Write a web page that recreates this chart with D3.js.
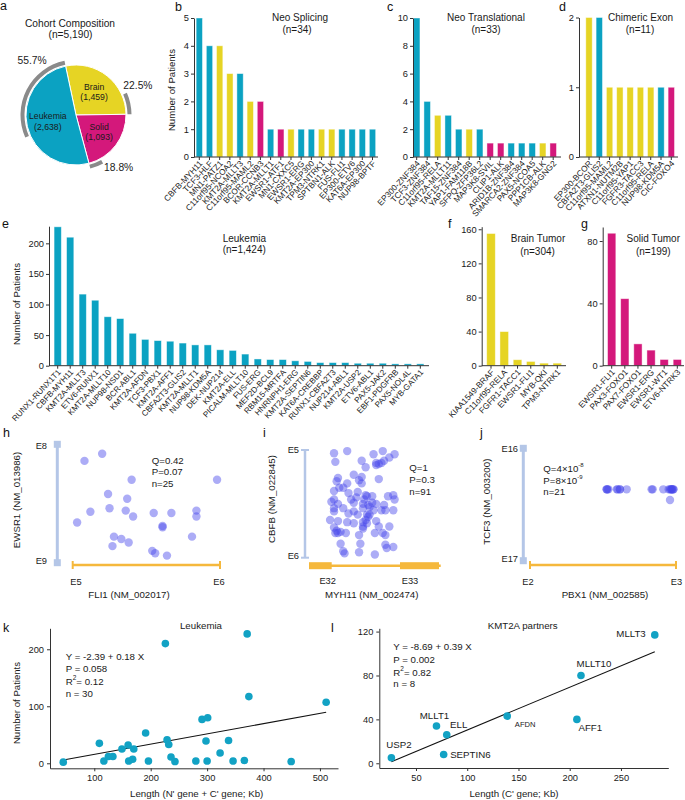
<!DOCTYPE html>
<html><head><meta charset="utf-8">
<script src="https://cdn.jsdelivr.net/npm/d3@7/dist/d3.min.js"></script>
<style>
body{margin:0;background:#fff}
svg text{font-family:"Liberation Sans",Arial,Helvetica,sans-serif;}
</style></head><body>
<svg id="chart" width="685" height="800"></svg>
<script>
// ================= DATA =================
const pieNames = ["Brain","Solid","Leukemia"];
const pieCounts = [1459,1093,2638];
const pieCountLabels = ["(1,459)","(1,093)","(2,638)"];
const piePct = [22.5,18.8,55.7];
const pieTypes = ["B","S","L"];

const spliceNames = ["CBFB-MYH11","TCF3-HLF","MN1-PATZ1","C11orf95-NCOA2","KMT2A-MLLT3","C11orf95-MAML2","BCOR-CCNB3","KMT2A-MLLT1","EWSR1-ATF1","MN1-CXXC5","EWSR1-ERG","KMT2A-EP300","TPM3-NTRK1","SPTBN1-ALK","FUS-FLI1","EP300-ETV6","KAT6A-EP300","NUP98-BPTF"];
const spliceValues = [5,4,4,3,3,2,2,1,1,1,1,1,1,1,1,1,1,1];
const spliceTypes = ["L","L","B","B","L","B","S","L","S","B","L","L","B","B","L","L","L","L"];

const transNames = ["EP300-ZNF384","TCF3-ZNF384","C11orf95-RELA","KMT2A-MLLT11","TAF15-ZNF384","YAP1-FAM118B","SFPQ-ZFP36L2","MAP3K8-SVIL","CLIP1-ALK","ARID1B-ZNF384","SMARCA2-ZNF384","PAX5-NCOA5","PPP1CB-ALK","MAP3K8-GNG2"];
const transValues = [10,4,3,3,2,2,2,1,1,1,1,1,1,1];
const transTypes = ["L","L","B","L","L","B","L","S","S","L","L","L","B","S"];

const chimNames = ["EP300-BCOR","CBFA2T3-GLIS2","C11orf95-MAML2","ATXN1-NUTM2B","C11orf95-YAP1","FGFR3-TACC3","C11orf95-RELA","NUP98-KDM5A","CIC-FOXO4"];
const chimValues = [2,2,1,1,1,1,1,1,1];
const chimTypes = ["B","L","B","B","B","B","B","L","S"];

const leukNames = ["RUNX1-RUNX1T1","CBFB-MYH11","KMT2A-MLLT3","ETV6-RUNX1","KMT2A-MLLT10","NUP98-NSD1","BCR-ABL1","KMT2A-AFDN","TCF3-PBX1","KMT2A-AFF1","CBFA2T3-GLIS2","KMT2A-MLLT1","NUP98-KDM5A","DEK-NUP214","KMT2A-ELL","PICALM-MLLT10","FUS-ERG","MEF2D-BCL9","RBM15-MRTFA","HNRNPH1-ERG","KMT2A-SEPTIN6","KAT6A-CREBBP","RUNX1-CBFA2T3","NUP214-ABL1","KMT2A-USP2","ETV6-ABL1","PAX5-JAK2","EBF1-PDGFRB","PAX5-NOL4L","MYB-GATA1"];
const leukValues = [227,210,117,107,80,77,53,43,41,40,37,34,34,26,25,19,11,10,10,8,7,5,5,5,4,4,4,3,3,3];

const brainNames = ["KIAA1549-BRAF","C11orf95-RELA","FGFR1-TACC1","EWSR1-FLI1","MYB-QKI","TPM3-NTRK1"];
const brainValues = [155,40,7,5,3,3];

const solidNames = ["EWSR1-FLI1","PAX3-FOXO1","PAX7-FOXO1","EWSR1-ERG","EWSR1-WT1","ETV6-NTRK3"];
const solidValues = [85,43,14,10,4,4];

// breakpoint positions, % along the exon interval
const hX = [8,20,40,98,24,37,12,25,36,41,3,55,67,84,84,61,61,28,33,38,27,81,54,56,64];
const hY = [14,8,30,30,42,46,57,54,56,61,66,58,58,56,61,69,70,78,80,83,86,78,90,92,94];
const iX = [19,29,20,49,56,65,61,51,55,57,40,43,53,51,34,40,38,22,21,53,26,23,19,37,44,42,48,60,64,65,19,19,22,26,34,41,45,48,51,49,41,44,45,43,57,64,30,34,37,16,22,29,34,41,41,41,44,51,53,61,19,21,20,24,28,22,50,38,56,58,24,39,58,64,26,27,38,50,59,30,40,55,19,36,32,46,29,46,17,58,43];
const iY = [3,1,11,4,1,4,7,12,12,10,10,16,13,14,23,25,28,26,29,27,35,35,38,39,43,46,43,43,42,46,46,54,50,54,49,50,51,49,50,56,54,60,62,65,51,56,59,57,60,65,66,67,68,67,73,71,68,66,71,71,72,75,77,76,77,77,77,79,77,79,87,87,88,90,94,96,95,97,91,40,31,56,57,44,46,53,31,60,48,56,42];
const jX = [52.5,52.5,53,53.7,59.5,60,61.6,61.6,66.2,83.3,84,91.3,95,95.9,96.5,97,97,97.5,98.2,98.2,95.9];
const jY = [36.5,36.5,36.5,36.5,36.5,36.5,36.5,36.5,36.5,36.5,36.5,36.5,36.5,36.5,36.5,36.5,36.5,36.5,36.5,36.5,46];

const kLen = [45,109,117,125,133,149,160,161,168,170,191,196,226,229,232,236,243,280,291,298,301,300,323,338,346,366,371,374,449,511];
const kCount = [2,35,4,12,12,25,32,4,7,25,53,4,210,41,33,11,3,4,77,39,80,4,18,40,4,5,227,117,3,107];

const lNames = ["MLLT3","MLLT10","AFDN","AFF1","MLLT1","ELL","SEPTIN6","USP2"];
const lLen = [283,211,139,207,70,80,77,26];
const lCount = [117,80,43,40,34,26,8,5];

// ================= STYLE =================
const COL = {L:"#0ba2c2", B:"#e6d424", S:"#d4187b"};
const AX = "#333", TXT = "#1a1a1a", PT = "#12a2c4";
const svg = d3.select("#chart");

function txt(g, x, y, s, size, anchor){
  return g.append("text").attr("x",x).attr("y",y).attr("font-size",size)
    .attr("fill",TXT).attr("text-anchor",anchor||"middle").attr("dominant-baseline","middle").text(s);
}
function styleAxis(a, fs){
  a.attr("font-family",null);
  a.selectAll(".domain").attr("stroke",AX).attr("stroke-width",1);
  a.selectAll(".tick line").attr("stroke",AX);
  a.selectAll("text").attr("fill",TXT).attr("font-size",fs||9);
}
function letter(s,x,y){ svg.append("text").attr("x",x).attr("y",y).attr("font-size",12.5).attr("fill","#111").text(s); }

// ================= PANEL a =================
(function(){
  const g = svg.append("g").attr("transform","translate(76,115)");
  const a0 = -12*Math.PI/180;
  const arcs = d3.pie().sort(null).startAngle(a0).endAngle(a0+2*Math.PI)(pieCounts);
  g.selectAll("path.sl").data(arcs).join("path").attr("class","sl")
    .attr("d", d3.arc().innerRadius(0).outerRadius(50))
    .attr("fill",(d,i)=>COL[pieTypes[i]]).attr("stroke","#fff").attr("stroke-width",1);
  const gr = d3.arc().innerRadius(51.5).outerRadius(55.5);
  g.selectAll("path.gr").data(arcs).join("path").attr("class","gr")
    .attr("d",(d,i)=>gr({startAngle:d.endAngle-(d.endAngle-d.startAngle)*piePct[i]/100, endAngle:d.endAngle}))
    .attr("fill","#8a8a8a");
  const lab = d3.arc().innerRadius(29).outerRadius(29);
  arcs.forEach((d,i)=>{
    const [cx,cy] = lab.centroid(d);
    txt(g,cx,cy-5,pieNames[i],8.7);
    txt(g,cx,cy+5.5,pieCountLabels[i],8.7);
  });
  const pctAng = [64.9,141.4,-39.4], pctR=[68.4,68.4,69.3];
  piePct.forEach((p,i)=>{
    const a = pctAng[i]*Math.PI/180;
    txt(g, pctR[i]*Math.sin(a), -pctR[i]*Math.cos(a), p.toFixed(1)+"%", 10.3);
  });
  txt(svg,70,24,"Cohort Composition",10.2);
  txt(svg,70.5,35.5,"(n=5,190)",10.2);
  letter("a",0,10);
})();

// ================= BAR CHARTS =================
function barChart(c){
  const n = c.names.length, step = (c.last-c.first)/(n-1);
  const x = d3.scaleBand().domain(d3.range(n)).range([c.first-step/2, c.last+step/2])
    .paddingInner(c.pad).paddingOuter(c.pad/2);
  const y = d3.scaleLinear().domain([0,c.yMax]).range([c.y0, c.yTop]);
  const g = svg.append("g");
  g.selectAll("rect").data(c.values).join("rect")
    .attr("x",(d,i)=>x(i)).attr("width",x.bandwidth())
    .attr("y",d=>y(d)).attr("height",d=>y(0)-y(d))
    .attr("fill",(d,i)=>COL[c.types ? c.types[i] : c.type])
    .attr("stroke","#ffffff").attr("stroke-opacity",0.55).attr("stroke-width",0.8);
  const ya = g.append("g").attr("transform",`translate(${c.x0},0)`)
    .call(d3.axisLeft(y).tickValues(c.ticks).tickSize(3).tickSizeOuter(0).tickPadding(2).tickFormat(d3.format("d")));
  styleAxis(ya, 9.3);
  const xa = g.append("g").attr("transform",`translate(0,${c.y0})`)
    .call(d3.axisBottom(x).tickSize(3).tickSizeOuter(0).tickFormat(i=>c.names[i]));
  xa.select(".domain").remove();
  styleAxis(xa, c.lfs||8.3);
  xa.selectAll("text").attr("x",0).attr("y",0).attr("dy","0.35em")
    .attr("transform","translate(1.5,5) rotate(-47)").attr("text-anchor","end");
  g.append("line").attr("x1",c.x0).attr("x2",c.x1).attr("y1",c.y0).attr("y2",c.y0)
    .attr("stroke",AX).attr("stroke-width",1);
  c.title.forEach(t=>txt(g,t[1],t[2],t[0],10,c.titleAnchor||"middle"));
  if(c.ylab) txt(g,0,0,"Number of Patients",9.6).attr("transform",`translate(${c.ylab[0]},${c.ylab[1]}) rotate(-90)`);
}

barChart({names:spliceNames, values:spliceValues, types:spliceTypes, x0:194, x1:378, first:199.3, last:372.5,
  y0:157, yTop:18, yMax:5, ticks:[0,1,2,3,4,5], pad:0.38,
  title:[["Neo Splicing",300,18.3],["(n=34)",297,30.5]], ylab:[172,90]});
letter("b",175,11);
barChart({names:transNames, values:transValues, types:transTypes, x0:413, x1:561, first:416.7, last:553.2,
  y0:157, yTop:18, yMax:10, ticks:[0,2,4,6,8,10], pad:0.38,
  title:[["Neo Translational",486,18.3],["(n=33)",486,30.5]]});
letter("c",387,11);
barChart({names:chimNames, values:chimValues, types:chimTypes, x0:579, x1:678, first:589, last:671.3,
  y0:157, yTop:17.5, yMax:2, ticks:[0,1,2], pad:0.38,
  title:[["Chimeric Exon",640.5,18.3],["(n=11)",640,30.5]]});
letter("d",559,11);
barChart({names:leukNames, values:leukValues, type:"L", x0:49, x1:429, first:57.7, last:420.3,
  y0:365.7, yTop:226.2, yMax:228, ticks:[0,50,100,150,200], pad:0.42, lfs:8.1,
  title:[["Leukemia",222.7,239.3],["(n=1,424)",222.7,250.5]], titleAnchor:"start", ylab:[17,304]});
letter("e",2,228);
barChart({names:brainNames, values:brainValues, type:"B", x0:481.7, x1:566, first:491, last:557.3,
  y0:365.7, yTop:226.7, yMax:163, ticks:[0,40,80,120,160], pad:0.35,
  title:[["Brain Tumor",538,239],["(n=304)",537.5,252]]});
letter("f",448,228);
barChart({names:solidNames, values:solidValues, type:"S", x0:602.7, x1:684, first:611.7, last:677.3,
  y0:365.7, yTop:227, yMax:89, ticks:[0,40,80], pad:0.37,
  title:[["Solid Tumor",653.3,239],["(n=199)",653.3,252]]});
letter("g",581,228);

// ================= GENE BREAKPOINT PANELS =================
const VCOL = "#b4c6e7", HCOL = "#f5b83c";
function genePanel(c, xs, ys){
  const g = svg.append("g");
  const x = d3.scaleLinear().domain([0,100]).range([c.xa,c.xb]);
  const y = d3.scaleLinear().domain([0,100]).range([c.ya,c.yb]);
  g.append("line").attr("x1",c.vx).attr("x2",c.vx).attr("y1",y(0)).attr("y2",y(100)).attr("stroke",VCOL).attr("stroke-width",c.vw||3);
  [0,100].forEach(v=>{
    if(c.square) g.append("rect").attr("x",c.vx-3.5).attr("y",y(v)-3.5).attr("width",7).attr("height",7).attr("fill",VCOL);
    else g.append("line").attr("x1",c.vx-4).attr("x2",c.vx+4).attr("y1",y(v)).attr("y2",y(v)).attr("stroke",VCOL).attr("stroke-width",2);
  });
  g.append("line").attr("x1",c.hx0).attr("x2",c.hx1).attr("y1",c.hy).attr("y2",c.hy).attr("stroke",HCOL).attr("stroke-width",2.5);
  if(c.exons){
    c.exons.forEach(e=>g.append("rect").attr("x",e[0]).attr("width",e[1]-e[0]).attr("y",c.hy-3.5).attr("height",7).attr("fill",HCOL));
  } else {
    [c.hx0,c.hx1].forEach(v=>g.append("line").attr("x1",v).attr("x2",v).attr("y1",c.hy-4).attr("y2",c.hy+4).attr("stroke",HCOL).attr("stroke-width",2));
  }
  txt(g,c.vlx,c.vl[0][1],c.vl[0][0],9.3,"end");
  txt(g,c.vlx,c.vl[1][1],c.vl[1][0],9.3,"end");
  c.hl.forEach(h=>txt(g,h[1],c.hly,h[0],9.3));
  txt(g,c.xlab[1],595,c.xlab[0],9.7);
  txt(g,0,0,c.ylab[0],9.7).attr("transform",`translate(${c.ylab[1]},${c.ylab[2]}) rotate(-90)`);
  g.selectAll("circle").data(xs).join("circle")
    .attr("cx",d=>x(d)).attr("cy",(d,i)=>y(ys[i])).attr("r",4.2)
    .attr("fill","rgb(70,70,236)").attr("fill-opacity",0.45);
  c.stats.forEach((s,k)=>{
    const t = g.append("text").attr("x",c.sx).attr("y",c.sy+k*11.7).attr("font-size",9.7).attr("fill",TXT).attr("dominant-baseline","middle");
    t.append("tspan").text(s[0]);
    if(s[1]) t.append("tspan").attr("font-size",6).attr("dy",-4).text(s[1]);
  });
  return g;
}
genePanel({xa:72.7,xb:220,ya:444.3,yb:562.7,vx:57.3,square:true,hx0:72.7,hx1:220,hy:565,
  vlx:47,vl:[["E8",446.5],["E9",561.5]],hl:[["E5",76],["E6",219]],hly:583,
  xlab:["FLI1 (NM_002017)",129],ylab:["EWSR1 (NM_013986)",17.5,500],
  sx:151.7,sy:460.5,stats:[["Q=0.42"],["P=0.07"],["n=25"]]}, hX, hY);
letter("h",3,437);
genePanel({xa:309,xb:440.7,ya:450,yb:557.7,vx:305,vw:2.5,square:false,hx0:309,hx1:440.7,hy:565.7,
  exons:[[309,331.7],[400,439]],
  vlx:299,vl:[["E5",450.3],["E6",557]],hl:[["E32",327.7],["E33",410]],hly:581.7,
  xlab:["MYH11 (NM_002474)",371.7],ylab:["CBFB (NM_022845)",272.5,499],
  sx:409.3,sy:468.3,stats:[["Q=1"],["P=0.3"],["n=91"]]}, iX, iY);
letter("i",263,437);
genePanel({xa:530,xb:676,ya:448.3,yb:560.7,vx:523.3,square:true,hx0:530,hx1:676,hy:565,
  vlx:518,vl:[["E16",449.7],["E17",560]],hl:[["E2",528],["E3",676.5]],hly:582.7,
  xlab:["PBX1 (NM_002585)",605],ylab:["TCF3 (NM_003200)",487.5,501.7],
  sx:543.3,sy:469,stats:[["Q=4×10","-8"],["P=8×10","-9"],["n=21"]]}, jX, jY);
letter("j",480,437);

// ================= REGRESSION PANELS =================
function regPanel(c, xs, ys){
  const g = svg.append("g");
  const x = d3.scaleLinear().domain(c.xd).range([c.x0,c.x1]);
  const y = d3.scaleLinear().domain(c.yd).range([c.y0,c.y1]);
  const xa = g.append("g").attr("transform",`translate(0,${c.y0})`).call(d3.axisBottom(x).tickValues(c.xt).tickSize(3).tickSizeOuter(0));
  const ya = g.append("g").attr("transform",`translate(${c.x0},0)`).call(d3.axisLeft(y).tickValues(c.yt).tickSize(3).tickSizeOuter(0));
  styleAxis(xa,9.3); styleAxis(ya,9.3);
  const lo = d3.min(xs), hi = d3.max(xs);
  g.append("line").attr("x1",x(lo)).attr("x2",x(hi)).attr("y1",y(c.b0+c.b1*lo)).attr("y2",y(c.b0+c.b1*hi))
    .attr("stroke","#111").attr("stroke-width",1.1);
  g.selectAll("circle").data(xs).join("circle").attr("cx",d=>x(d)).attr("cy",(d,i)=>y(ys[i])).attr("r",3.8).attr("fill",PT);
  txt(g,c.title[1],626,c.title[0],9.7);
  txt(g,c.xlab[1],794,c.xlab[0],9.7);
  if(c.ylab) txt(g,0,0,c.ylab[0],9.6).attr("transform",`translate(${c.ylab[1]},${c.ylab[2]}) rotate(-90)`);
  c.stats.forEach((s,k)=>{
    const t = g.append("text").attr("x",c.sx).attr("y",c.sy+k*12.4).attr("font-size",9.7).attr("fill",TXT).attr("dominant-baseline","middle");
    if(s.length>1){ t.append("tspan").text(s[0]); t.append("tspan").attr("font-size",6.5).attr("dy",-4).text(s[1]); t.append("tspan").attr("dy",4).text(s[2]); }
    else t.text(s[0]);
  });
  return {g,x,y};
}
regPanel({xd:[21.5,532],yd:[-8.8,236.8],x0:50,x1:338,y0:768.3,y1:628.3,xt:[100,200,300,400,500],yt:[0,100,200],
  b0:-2.39,b1:0.18,title:["Leukemia",201],xlab:["Length (N' gene + C' gene; Kb)",196.7],ylab:["Number of Patients",17,703],
  sx:65.7,sy:657.3,stats:[["Y = -2.39 + 0.18 X"],["P = 0.058"],["R","2","= 0.12"],["n = 30"]]}, kLen, kCount);
letter("k",3,632);
const L = regPanel({xd:[14.2,296.2],yd:[-4.3,123],x0:379.3,x1:668.3,y0:768,y1:628.3,xt:[50,100,150,200,250],yt:[0,40,80,120],
  b0:-8.69,b1:0.39,title:["KMT2A partners",522.7],xlab:["Length (C' gene; Kb)",514],
  sx:393.3,sy:647.7,stats:[["Y = -8.69 + 0.39 X"],["P = 0.002"],["R","2","= 0.82"],["n = 8"]]}, lLen, lCount);
letter("l",331,632);
const lOff = [[-9,0,"end",9.7],[13,-11,"middle",9.7],[18,9.4,"middle",7.6],[13.4,9,"middle",9.7],[-2,-9.3,"middle",9.7],[12,-9,"middle",9.7],[6.5,0.7,"start",9.7],[7.6,-12.6,"middle",9.7]];
lNames.forEach((nm,i)=>{
  txt(L.g, L.x(lLen[i])+lOff[i][0], L.y(lCount[i])+lOff[i][1], nm, lOff[i][3], lOff[i][2]);
});
</script>
</body></html>
